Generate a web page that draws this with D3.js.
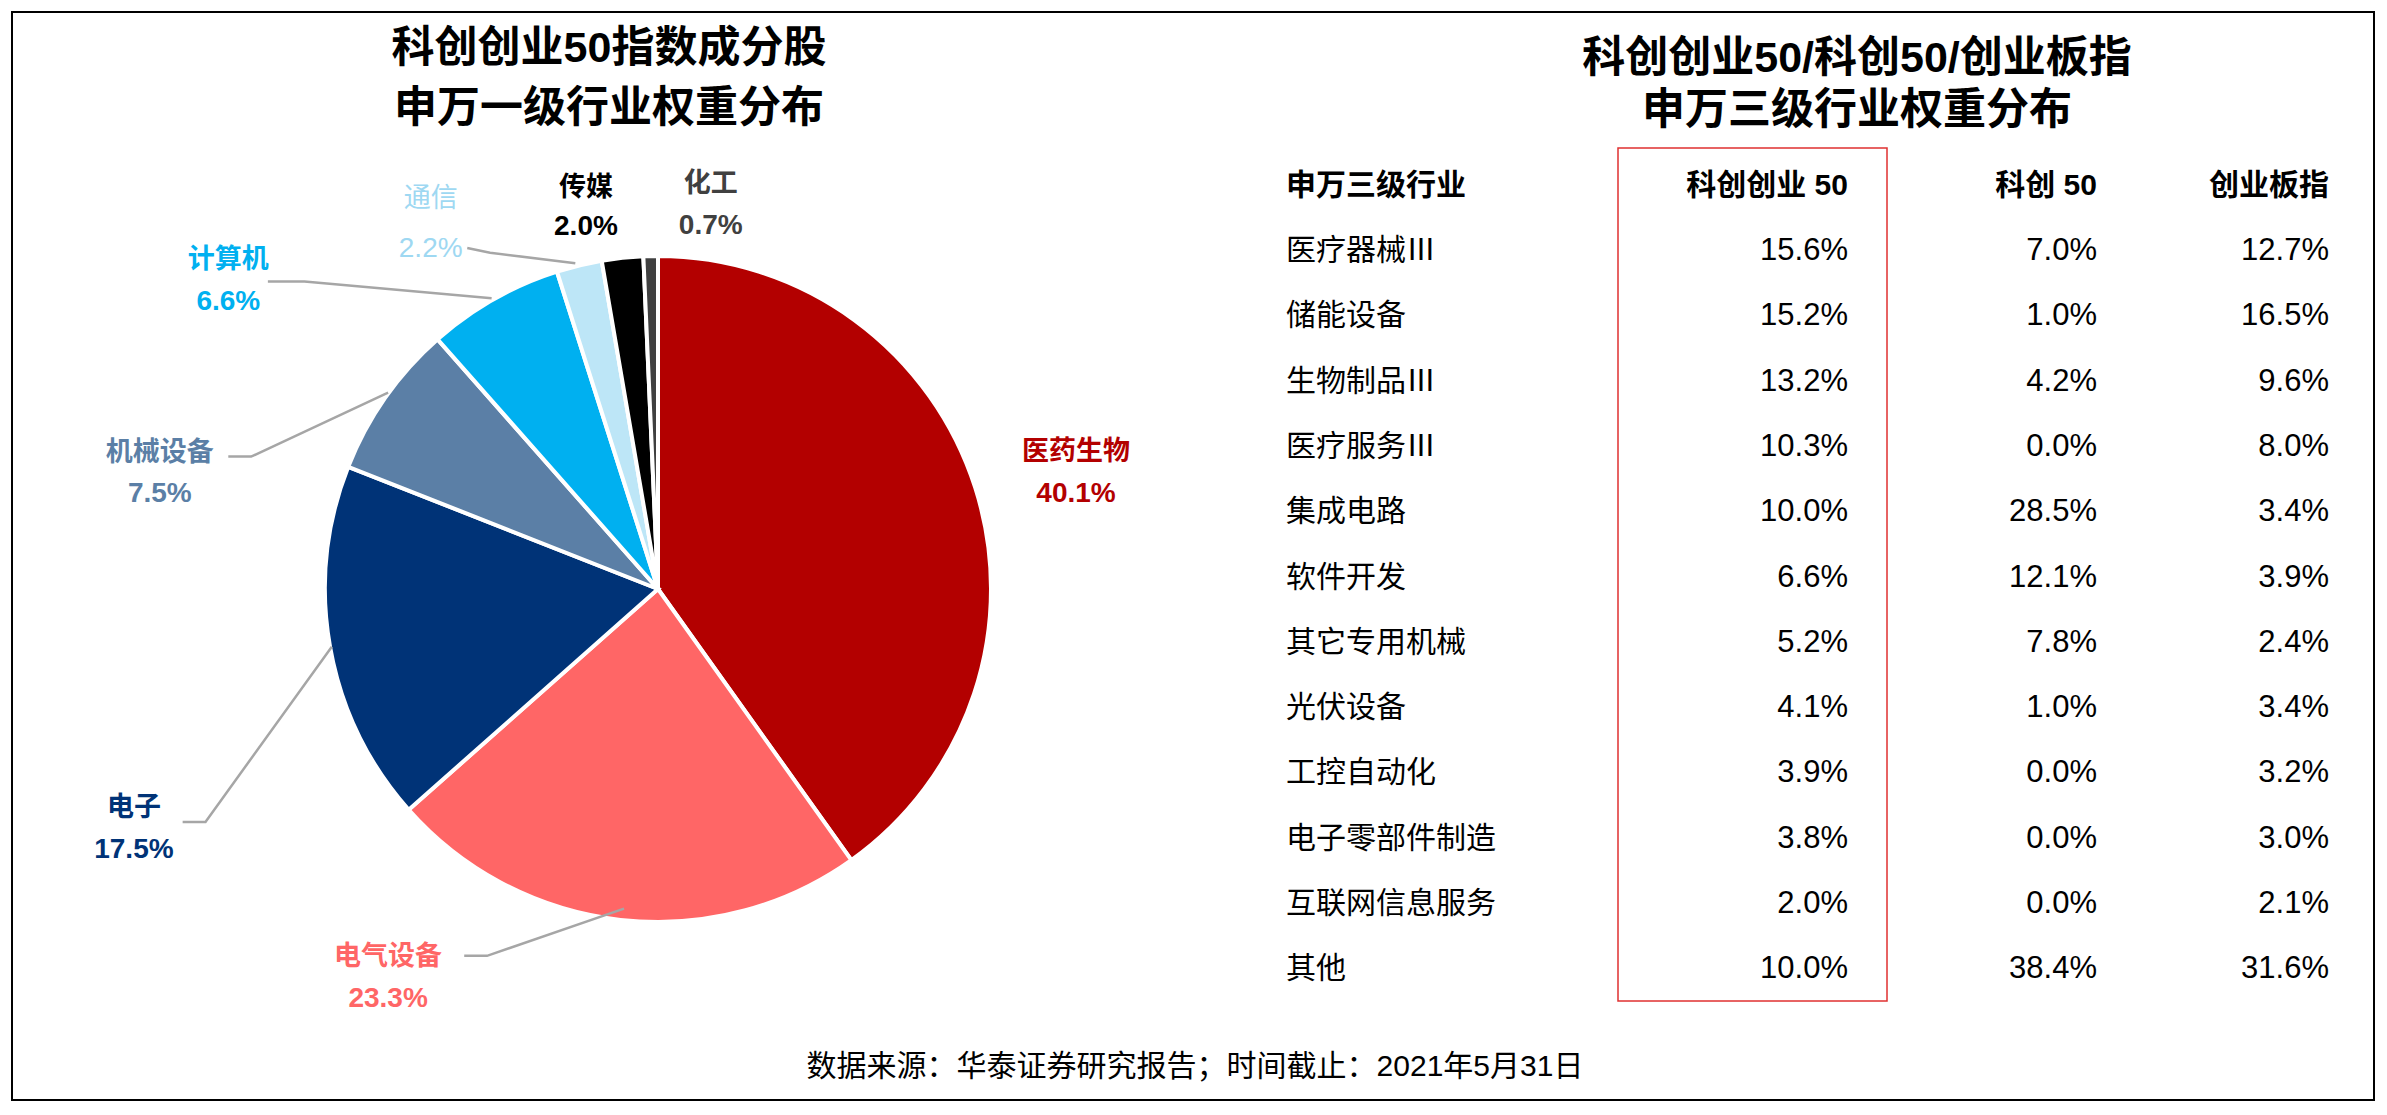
<!DOCTYPE html>
<html><head><meta charset="utf-8">
<script src="https://cdn.jsdelivr.net/npm/d3@7"></script>
<style>body{margin:0;background:#fff}svg{display:block}text{font-family:"Liberation Sans","Noto Sans CJK SC",sans-serif}</style>
</head><body>
<script>
const pieCats=["医药生物","电气设备","电子","机械设备","计算机","通信","传媒","化工"];
const pieVals=[40.1,23.3,17.5,7.5,6.6,2.2,2.0,0.7];
const pieColors=["#B30000","#FF6666","#003377","#5B7FA6","#00B0F0","#BDE6F7","#000000","#404040"];
const labelColors=["#B30000","#FF6666","#003377","#5B7FA6","#00B0F0","#9ED8F2","#000000","#404040"];
const tableRows=["医疗器械Ⅲ","储能设备","生物制品Ⅲ","医疗服务Ⅲ","集成电路","软件开发","其它专用机械","光伏设备","工控自动化","电子零部件制造","互联网信息服务","其他"];
const colHeaders=["申万三级行业","科创创业 50","科创 50","创业板指"];
const kcCy50=[15.6,15.2,13.2,10.3,10.0,6.6,5.2,4.1,3.9,3.8,2.0,10.0];
const kc50=[7.0,1.0,4.2,0.0,28.5,12.1,7.8,1.0,0.0,0.0,0.0,38.4];
const cybz=[12.7,16.5,9.6,8.0,3.4,3.9,2.4,3.4,3.2,3.0,2.1,31.6];

const W=2387,H=1115,s=1.522;
const svg=d3.select("body").append("svg").attr("width",W).attr("height",H);
svg.append("rect").attr("x",12).attr("y",12).attr("width",2362).attr("height",1088).attr("fill","none").attr("stroke","#000").attr("stroke-width",2);

// titles
const t1=svg.append("text").attr("text-anchor","middle").attr("font-size",43).attr("font-weight","bold");
[["科创创业50指数成分股",62],["申万一级行业权重分布",122]].forEach(d=>t1.append("tspan").attr("x",609).attr("y",d[1]).text(d[0]));
const t2=svg.append("text").attr("text-anchor","middle").attr("font-size",43).attr("font-weight","bold");
[["科创创业50/科创50/创业板指",72],["申万三级行业权重分布",124]].forEach(d=>t2.append("tspan").attr("x",1857).attr("y",d[1]).text(d[0]));

// pie
const cx=658,cy=589,R=333;
const pie=d3.pie().sort(null).value(d=>d)(pieVals);
const arc=d3.arc().innerRadius(0).outerRadius(R);
const g=svg.append("g").attr("transform",`translate(${cx},${cy})`);
g.selectAll("path").data(pie).join("path").attr("d",arc).attr("fill",(d,i)=>pieColors[i]).attr("stroke","#fff").attr("stroke-width",4);

// label layout (display coords * s)
const labelPos=[[707,296,323],[255,628,655],[88,530,557],[105,297,323],[150,170,197],[283,130,162],[385,123,148],[467,120,147]];
const leaders=[null,[[305,628],[320,628],[410,597]],[[120,540],[135,540],[218,425]],[[150,300],[165,300],[255,258]],[[176,185],[200,185],[323,196]],[[307,163],[322,166],[378,173]],null,null];
leaders.forEach(l=>{ if(!l) return;
  svg.append("path").attr("d",d3.line()(l.map(p=>[p[0]*s,p[1]*s]))).attr("fill","none").attr("stroke","#A6A6A6").attr("stroke-width",2.5);
});
pieCats.forEach((c,i)=>{
  const [x,y1,y2]=labelPos[i]; const w=i===5?"normal":"bold";
  svg.append("text").attr("x",x*s).attr("y",y1*s+9).attr("text-anchor","middle").attr("font-size",27).attr("font-weight",w).attr("fill",labelColors[i]).text(c);
  svg.append("text").attr("x",x*s).attr("y",y2*s+10).attr("text-anchor","middle").attr("font-size",28).attr("font-weight",w).attr("fill",labelColors[i]).text(pieVals[i].toFixed(1)+"%");
});

// table
const y=d3.scalePoint().domain(tableRows).range([260,260+11*65.3]);
svg.append("rect").attr("x",1618).attr("y",148).attr("width",269).attr("height",853).attr("fill","none").attr("stroke","#E03030").attr("stroke-width",1.5);
const colX=[1286,1848,2097,2329];
colHeaders.forEach((h,i)=>svg.append("text").attr("x",colX[i]).attr("y",195).attr("text-anchor",i?"end":"start").attr("font-size",30).attr("font-weight","bold").text(h));
const fmt=v=>v.toFixed(1)+"%";
tableRows.forEach((r,j)=>{
  svg.append("text").attr("x",colX[0]).attr("y",y(r)).attr("font-size",30).text(r);
  [kcCy50,kc50,cybz].forEach((arr,k)=>svg.append("text").attr("x",colX[k+1]).attr("y",y(r)).attr("text-anchor","end").attr("font-size",31).text(fmt(arr[j])));
});

svg.append("text").attr("x",1195).attr("y",1076).attr("text-anchor","middle").attr("font-size",30).text("数据来源：华泰证券研究报告；时间截止：2021年5月31日");
</script>
</body></html>
